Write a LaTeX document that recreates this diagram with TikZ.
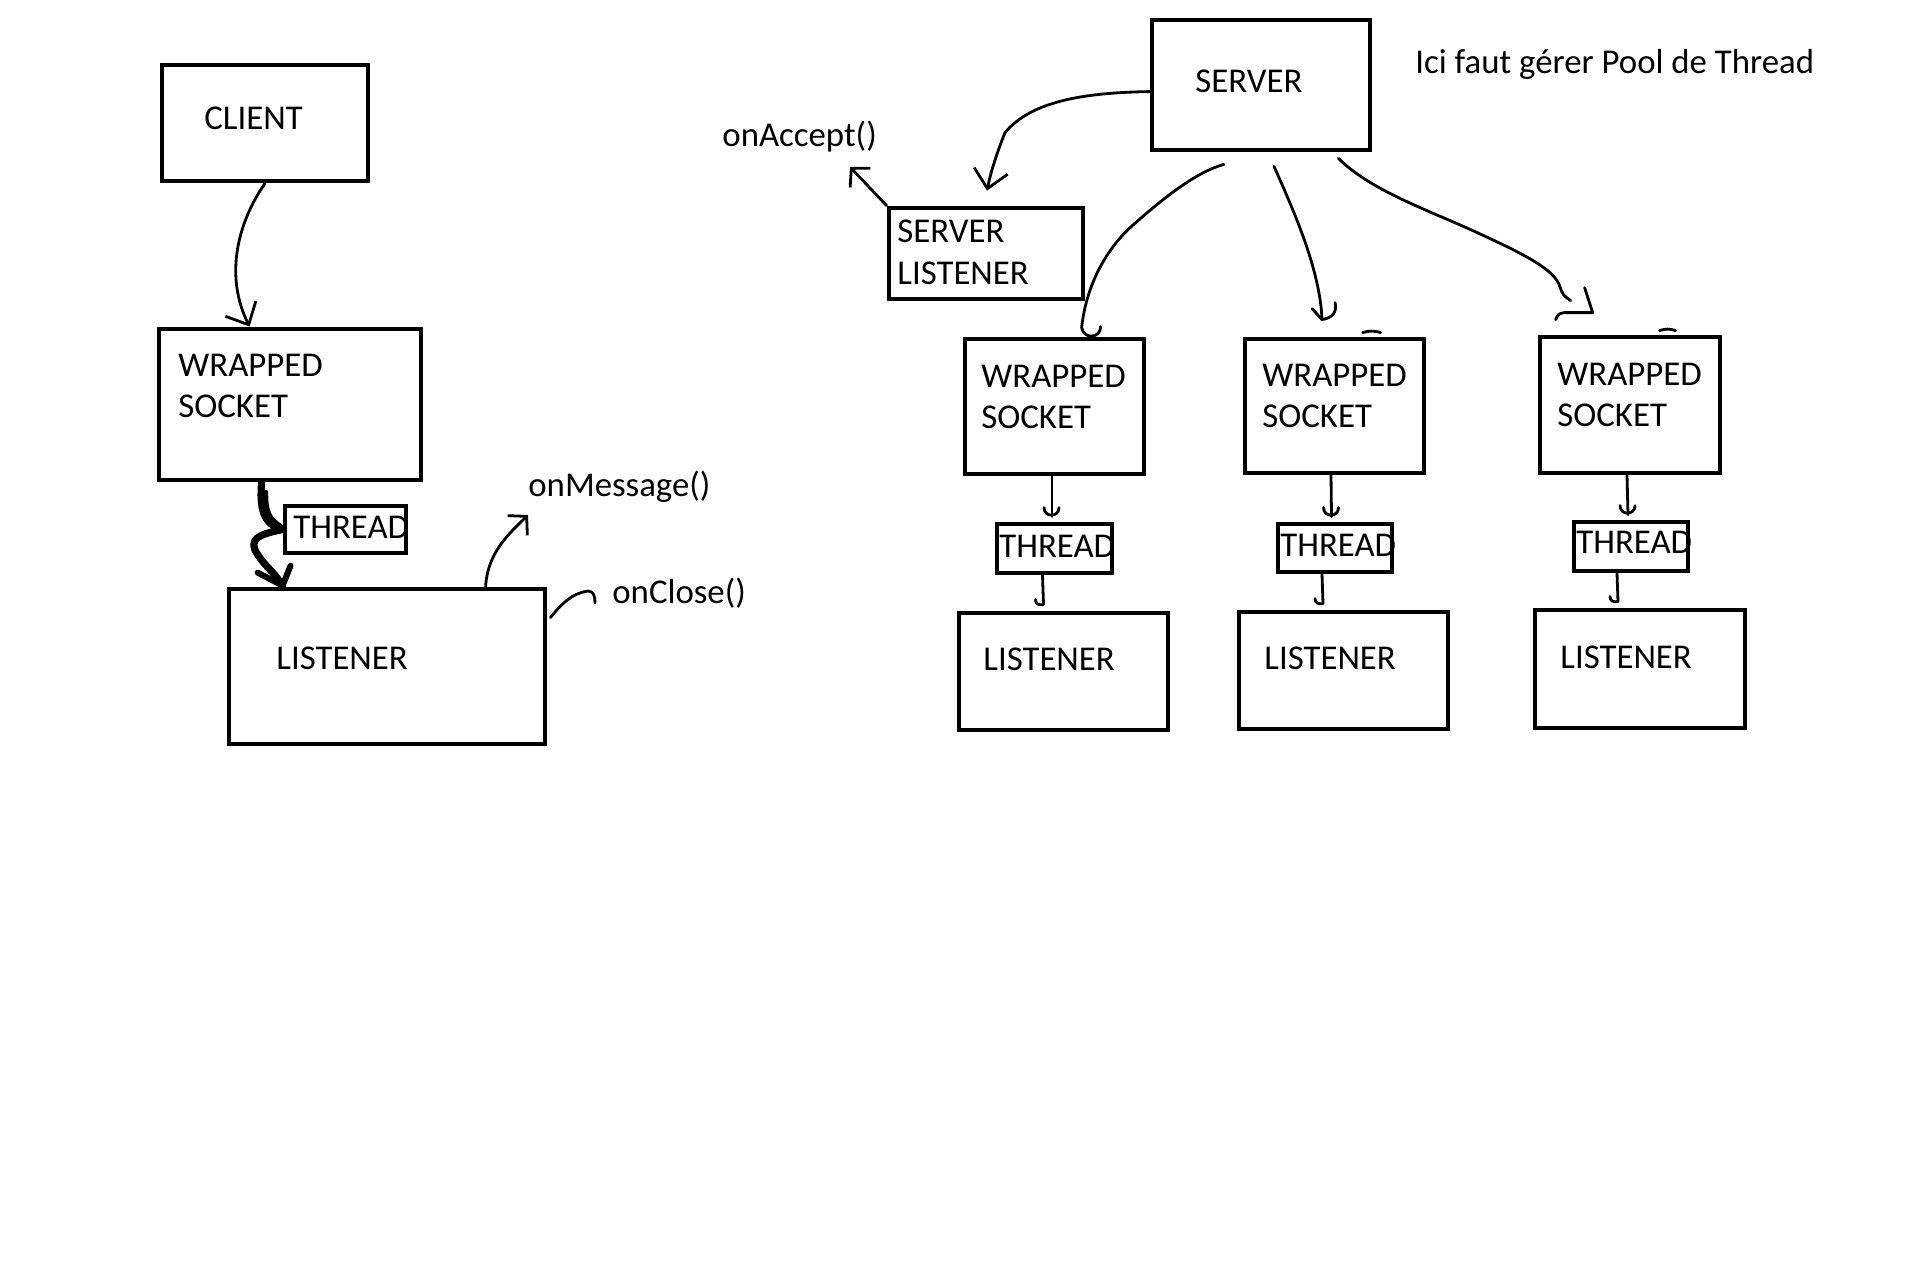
\documentclass[tikz,border=0pt]{standalone}
\usepackage{fontspec}
\setmainfont{Carlito}
\usetikzlibrary{arrows.meta,calc,fit}
\begin{document}
\begin{tikzpicture}[x=0.5pt,y=-0.5pt,
  box/.style={draw, line width=2.4pt, inner sep=0pt, fit={#1}},
  lbl/.style={anchor=base west, inner sep=0pt, font=\fontsize{17.4pt}{21pt}\selectfont},
  wire/.style={line width=1.4pt, line cap=round, line join=round},
  tip/.style={-{Straight Barb[length=9pt,width=17pt]}},
  tipsmall/.style={-{Straight Barb[length=6.5pt,width=14pt]}},
]
\fill[white] (0,0) rectangle (1920,1280);
\useasboundingbox (0,0) rectangle (1920,1280);

% ---------- client side ----------
\node[box={(162,65) (368,181)}] (client) {};
\node[lbl] (clientT) at (204,129) {CLIENT};
\node[box={(159,329) (421,480)}] (wsL) {};
\node[lbl] (wsLa) at (178,376) {WRAPPED};
\node[lbl] (wsLb) at (178,417) {SOCKET};
\node[box={(285,506) (406,553)}] (thL) {};
\node[lbl] (thLT) at (293,538) {THREAD};
\node[box={(229,589) (545,744)}] (lisL) {};
\node[lbl] (lisLT) at (276,669) {LISTENER};
\node[lbl] (msg) at (528,496) {onMessage()};
\node[lbl] (close) at (612,603) {onClose()};

\coordinate (msgtip) at ($(msg.base west)+(0,19)$);
\coordinate (closetip) at ($(close.base west)+(-24,-12)$);

\draw[wire, tip] (client.south) .. controls +(-28,40) and +(-25,-50) .. ($(wsL.north west)+(93,0)$);

% thick hand-drawn link through the thread
\draw[line width=3.6pt, line cap=round, line join=round]
  ($(wsL.south west)+(105,0)$) .. controls +(-2,25) and +(-20,-5) .. (thL.west)
  .. controls +(-25,5) and +(-10,-15) .. ($(thL.west)+(-25,25)$)
  .. controls +(10,15) and +(-8,-15) .. ($(lisL.north west)+(56,0)$);
\draw[line width=2.6pt, line cap=round, line join=round]
  ($(wsL.south west)+(109,10)$) .. controls +(0,20) and +(-12,-8) .. ($(thL.west)+(-2,-3)$);
\draw[line width=3pt, line cap=round, line join=round]
  ($(lisL.north west)+(31,-14)$) -- ($(lisL.north west)+(56,-1)$) -- ($(lisL.north west)+(64,-21)$);

\draw[wire, tipsmall] ($(lisL.north west)+(259,0)$) .. controls +(2,-35) and +(-18,18) .. (msgtip);
\draw[wire] ($(lisL.north east)+(3,31)$) .. controls +(12,-15) and +(-15,2) .. (closetip)
  .. controls +(6,0) and +(0,-6) .. ($(closetip)+(7,12)$);

% ---------- server side ----------
\node[box={(1152,20) (1370,150)}] (server) {};
\node[lbl] (serverT) at (1195,92) {SERVER};
\node[lbl] (note) at (1415,73) {Ici faut gérer Pool de Thread};
\node[box={(889,208) (1083,299)}] (sl) {};
\node[lbl] (slA) at (897,242) {SERVER};
\node[lbl] (slB) at (897,284) {LISTENER};
\node[lbl] (accept) at (722,146) {onAccept()};
\coordinate (accepttip) at ($(accept.base west)+(128,21)$);

\draw[wire, tip] ($(server.north west)+(0,74)$) .. controls +(-70,1) and +(25,-30) .. ($(sl.north)+(19,-73)$)
  .. controls +(-10,25) and +(3,-15) .. ($(sl.north)+(1,-15)$);
\draw[wire, tipsmall] (sl.north west) -- (accepttip);

% column 1
\node[box={(965,339) (1144,474)}] (ws1) {};
\node[lbl] (ws1a) at (981,387) {WRAPPED};
\node[lbl] (ws1b) at (981,428) {SOCKET};
\node[box={(997,524) (1112,573)}] (th1) {};
\node[lbl] (th1T) at (999,557) {THREAD};
\node[box={(959,613) (1168,730)}] (lis1) {};
\node[lbl] (lis1T) at (983,670) {LISTENER};

% column 2
\node[box={(1245,339) (1424,473)}] (ws2) {};
\node[lbl] (ws2a) at (1262,386) {WRAPPED};
\node[lbl] (ws2b) at (1262,427) {SOCKET};
\node[box={(1278,524) (1392,572)}] (th2) {};
\node[lbl] (th2T) at (1280,556) {THREAD};
\node[box={(1239,612) (1448,729)}] (lis2) {};
\node[lbl] (lis2T) at (1264,669) {LISTENER};

% column 3
\node[box={(1540,337) (1720,473)}] (ws3) {};
\node[lbl] (ws3a) at (1557,385) {WRAPPED};
\node[lbl] (ws3b) at (1557,426) {SOCKET};
\node[box={(1574,522) (1688,571)}] (th3) {};
\node[lbl] (th3T) at (1576,553) {THREAD};
\node[box={(1535,610) (1745,728)}] (lis3) {};
\node[lbl] (lis3T) at (1560,668) {LISTENER};

% server to the three sockets
\draw[wire] ($(server.south)+(-37,12)$) .. controls +(-30,8) and +(25,-22) .. (1133,225)
  .. controls +(-25,22) and +(5,-45) .. ($(ws1.north west)+(119,-9)$)
  .. controls +(2,12) and +(0,12) .. ($(ws1.north west)+(138,-10)$);

\coordinate (t2) at ($(ws2.north)+(-12.5,-17)$);
\draw[wire] ($(server.south)+(13,14)$) .. controls +(20,45) and +(-2,-50) .. (t2);
\draw[wire] ($(t2)+(-10,-11)$) -- (t2) .. controls +(12,-2) and +(2,8) .. ($(t2)+(13,-17)$);

\draw[wire] ($(server.south east)+(-34,6)$) .. controls +(30,30) and +(-45,-20) .. (1467,228)
  .. controls +(55,25) and +(-5,-18) .. (1560,287)
  .. controls +(3,8) .. ($(ws3.north west)+(33,-34)$);
\draw[wire] ($(ws3.north west)+(47,-47)$) -- ($(ws3.north west)+(55,-22)$) -- ($(ws3.north west)+(27,-22)$)
  .. controls +(-6,1) .. ($(ws3.north west)+(18,-15)$);

% small marks on socket tops
\draw[wire] ($(ws2.north west)+(120,-4)$) .. controls +(6,-2) and +(-6,-2) .. ($(ws2.north west)+(138,-4)$);
\draw[wire] ($(ws3.north west)+(122,-4)$) .. controls +(6,-2) and +(-6,-2) .. ($(ws3.north west)+(138,-4)$);

% socket -> thread -> listener links
\foreach \w/\t/\l/\a/\b/\c in {ws1/th1/lis1/-2.5/-12/-20, ws2/th2/lis2/-3.5/-13/-20.5, ws3/th3/lis3/-3/-14/-22}{
  \draw[wire] ($(\w.south)+(\a,0)$) -- ($(\t.north)+(\a,-5)$);
  \draw[wire] ($(\t.north)+(\a-8,-14)$) .. controls +(0,10) and +(0,10) .. ($(\t.north)+(\a+7,-14)$);
  \draw[wire] ($(\t.south)+(\b,0)$) -- ($(\l.north)+(\c,-6)$)
    .. controls +(-5,1) and +(0,4) .. ($(\l.north)+(\c-8,-11)$);
}
\end{tikzpicture}
\end{document}
